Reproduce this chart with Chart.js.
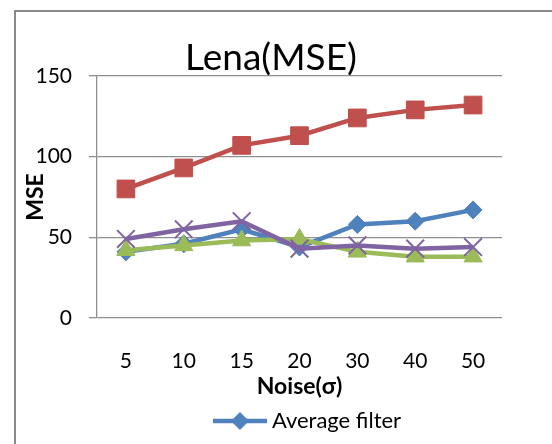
<!DOCTYPE html>
<html lang="en">
<head>
  <meta charset="UTF-8">
  <title>Lena(MSE)</title>
  <script src="https://cdn.jsdelivr.net/npm/chart.js"></script>
  <style>
    * {
      margin: 0;
      padding: 0;
      box-sizing: border-box;
    }
    body {
      background: #fff;
      width: 552px;
      height: 444px;
      overflow: hidden;
      position: relative;
    }
    .frame {
      position: absolute;
      left: 14px;
      top: 10px;
      width: 620px;
      height: 500px;
      border-left: 2px solid #8a8a8a;
      border-top: 2px solid #8a8a8a;
    }
    .wrap {
      position: absolute;
      left: 0;
      top: 0;
      width: 606px;
      height: 442px;
    }
  </style>
</head>
<body>
  <div class="frame"></div>
  <div class="wrap"><canvas id="chart"></canvas></div>

  <script>
    // values
    const noise = ["5", "10", "15", "20", "30", "40", "50"];
    const averageFilter = [41, 46, 55, 44, 58, 60, 67];
    const series2 = [80, 93, 107, 113, 124, 129, 132];
    const series3 = [42, 45, 48, 49, 41, 38, 38];
    const series4 = [49, 55, 60, 43, 45, 43, 44];
    const yTicks = [0, 50, 100, 150];

    const blue = '#4f81bd', red = '#c0504d', green = '#9bbb59', purple = '#8064a2';
    const font = 'Lato, "Open Sans", sans-serif';

    // legend symbol: line with a diamond in the middle
    const sym = document.createElement('canvas');
    sym.width = 54; sym.height = 20;
    const sc = sym.getContext('2d');
    sc.strokeStyle = blue; sc.lineWidth = 4.5;
    sc.beginPath(); sc.moveTo(0, 10); sc.lineTo(54, 10); sc.stroke();
    sc.fillStyle = blue;
    sc.beginPath(); sc.moveTo(27, 1); sc.lineTo(36, 10); sc.lineTo(27, 19); sc.lineTo(18, 10); sc.closePath(); sc.fill();

    const titlePlugin = {
      id: 'titleText',
      afterDraw(chart) {
        const ctx = chart.ctx;
        ctx.save();
        ctx.font = '37px ' + font;
        ctx.fillStyle = '#000';
        ctx.textAlign = 'center';
        ctx.textBaseline = 'alphabetic';
        ctx.fillText('Lena(MSE)', 271, 70);
        ctx.restore();
      }
    };

    function line(label, data, color, style, radius, order) {
      return {
        label: label,
        data: data,
        borderColor: color,
        backgroundColor: color,
        borderWidth: 4.5,
        pointStyle: style,
        pointRadius: radius,
        pointHoverRadius: radius,
        pointBorderWidth: style === 'crossRot' ? 2 : 1,
        pointBorderColor: color,
        pointBackgroundColor: color,
        tension: 0,
        order: order
      };
    }

    new Chart(document.getElementById('chart'), {
      type: 'line',
      data: {
        labels: noise,
        datasets: [
          line('Average filter', averageFilter, blue, 'rectRot', 9, 4),
          line('Series 2', series2, red, 'rect', 12.5, 3),
          line('Series 3', series3, green, 'triangle', 10.5, 2),
          line('Series 4', series4, purple, 'crossRot', 12.5, 1)
        ]
      },
      plugins: [titlePlugin],
      options: {
        responsive: true,
        maintainAspectRatio: false,
        animation: false,
        layout: { padding: { left: 20, right: 6, top: 76, bottom: 0 } },
        plugins: {
          title: { display: false },
          tooltip: { enabled: false },
          legend: {
            position: 'bottom',
            labels: {
              usePointStyle: true,
              pointStyle: sym,
              pointStyleWidth: 42,
              boxHeight: 18,
              padding: 10,
              color: '#000',
              font: { family: font, size: 22 },
              filter: (item) => item.datasetIndex === 0
            }
          }
        },
        scales: {
          x: {
            offset: true,
            grid: { display: false, drawTicks: false },
            border: { display: false },
            ticks: { color: '#000', padding: 31, font: { family: font, size: 21 } },
            title: {
              display: true,
              text: 'Noise(σ)',
              color: '#000',
              padding: { top: 0, bottom: 0 },
              font: { family: font, size: 23, weight: 'bold' }
            },
            afterFit: (s) => { s.height = 82; }
          },
          y: {
            min: 0,
            max: 150,
            afterBuildTicks: (s) => { s.ticks = yTicks.map(v => ({ value: v })); },
            grid: { color: '#8f8f8f', lineWidth: 1.3, tickLength: 8 },
            border: { display: true, color: '#8f8f8f', width: 1.3 },
            ticks: { color: '#000', padding: 17, font: { family: font, size: 21 } },
            title: {
              display: true,
              text: 'MSE',
              color: '#000',
              padding: { top: 2, bottom: 0 },
              font: { family: font, size: 23, weight: 'bold' }
            },
            afterFit: (s) => { s.width = 77; }
          },
          y2: {
            position: 'right',
            display: true,
            grid: { display: false, drawTicks: false },
            border: { display: false },
            ticks: { display: false },
            afterFit: (s) => { s.width = 98; }
          }
        }
      }
    });
  </script>
</body>
</html>
